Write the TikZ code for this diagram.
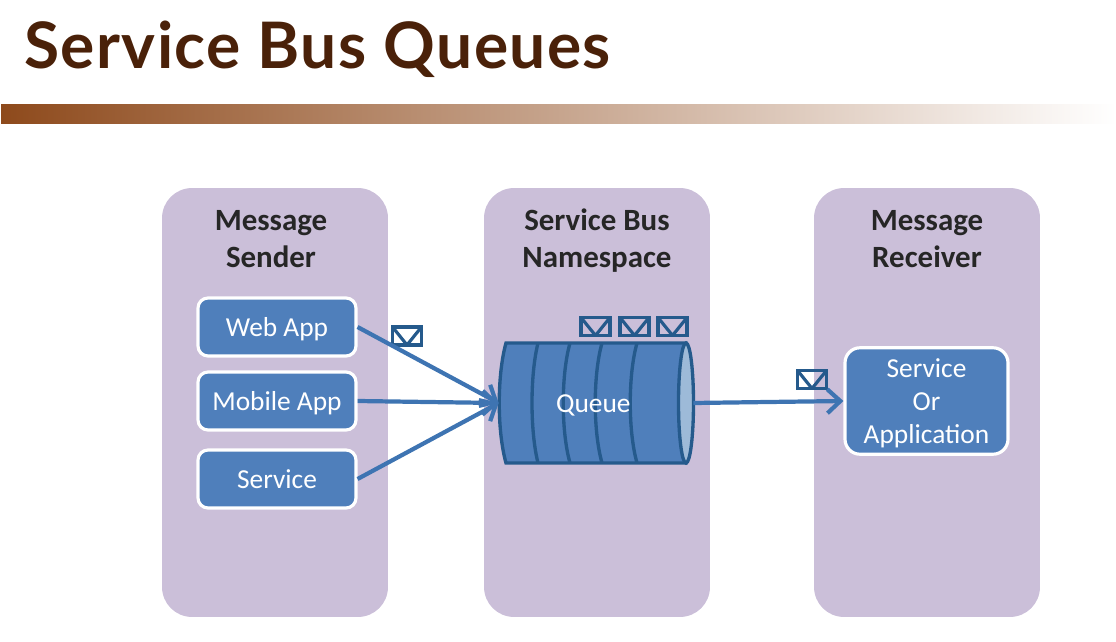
\documentclass[tikz,border=0pt]{standalone}
\usepackage{fontspec}
\setmainfont{Carlito}
\newfontfamily\titlefont[LetterSpace=2.2]{Lato}
\usetikzlibrary{arrows.meta}
\definecolor{titlebrown}{HTML}{4A2109}
\definecolor{barbrown}{HTML}{8E4A1C}
\definecolor{panellilac}{HTML}{CBBFD9}
\definecolor{boxblue}{HTML}{4F7FBB}
\definecolor{linkblue}{HTML}{3E74B2}
\definecolor{edgeblue}{HTML}{255A8C}
\definecolor{endblue}{HTML}{9DBAD8}
\tikzset{
  panel/.style={rectangle, rounded corners=0.6cm, fill=panellilac, minimum width=4.52cm, minimum height=8.58cm},
  heading/.style={align=center, font=\fontsize{17.6}{21}\selectfont\bfseries, text=black!85},
  appbox/.style={rectangle, rounded corners=0.2cm, draw=white, line width=1.8pt, fill=boxblue, text=white, font=\fontsize{15.6}{19}\selectfont},
  senderbox/.style={appbox, minimum width=3.16cm, minimum height=1.16cm, text height=14pt, text depth=3pt},
  envelope/.style={rectangle, draw=edgeblue, line width=1.8pt, minimum width=0.58cm, minimum height=0.36cm,
    path picture={\draw[edgeblue, line width=1.8pt] (path picture bounding box.north west) -- (path picture bounding box.south) -- (path picture bounding box.north east);}},
  link/.style={draw=linkblue, line width=2.4pt, -{Straight Barb[length=2.6mm, width=4.8mm, line width=2.4pt]}},
}
\begin{document}
\begin{tikzpicture}[x=0.02cm, y=-0.02cm]
  \useasboundingbox (0,0) rectangle (1116,642);
  % title and bar
  \node[anchor=base west, inner sep=0pt, text=titlebrown, font=\titlefont\fontsize{36.5}{40}\selectfont\bfseries] (title) at (24,69) {Service Bus Queues};
  \shade[left color=barbrown, right color=white] (1,104.5) rectangle (1116,124);
  % panels
  \node[panel] (sender) at (275,402.5) {};
  \node[panel] (namespace) at (597,402.5) {};
  \node[panel] (receiver) at (927,402.5) {};
  \node[heading] (senderhead) at (271,239.5) {Message\\Sender};
  \node[heading] (namespacehead) at (597,240.5) {Service Bus\\Namespace};
  \node[heading] (receiverhead) at (927,239.5) {Message\\Receiver};
  % senders
  \node[senderbox] (webapp) at (277,327) {Web App};
  \node[senderbox] (mobileapp) at (277,401) {Mobile App};
  \node[senderbox] (service) at (277,479) {Service};
  \node[appbox, align=center, minimum width=3.26cm, minimum height=2.08cm, rounded corners=0.3cm] (application) at (926.5,401) {\rule{0pt}{13.4pt}Service\\Or\\Application};
  % queue
  \draw[edgeblue, line width=1.9pt, fill=boxblue] (506,343) .. controls (497,375) and (497,431) .. (506,463) -- (686,463) -- (686,343) -- cycle;
  \foreach \rx/\tx in {530/538, 561/570, 593/602, 628/637}
    \draw[edgeblue, line width=1.9pt] (\tx,343) .. controls (\rx,375) and (\rx,431) .. (\tx,463);
  \draw[edgeblue, line width=1.9pt, fill=endblue] (686,403) ellipse (7.5 and 60);
  \node[rectangle, minimum width=3.88cm, minimum height=2.4cm, text height=14pt, text depth=3pt, text=white, font=\fontsize{15.6}{19}\selectfont] (queue) at (596,403) {Queue\rule{3pt}{0pt}};
  % messages
  \node[envelope] (sendermsg) at (407,336) {};
  \foreach \i/\x in {1/595.5, 2/634.5, 3/672.5}
    \node[envelope] (queuemsg\i) at (\x,326.5) {};
  \node[envelope] (receivermsg) at (812,379.5) {};
  % links
  \draw[link] (webapp.east) -- (queue.west);
  \draw[link] (mobileapp.east) -- (queue.west);
  \draw[link] (service.east) -- (queue.west);
  \draw[link] (queue.east) -- (application.west);
\end{tikzpicture}
\end{document}
